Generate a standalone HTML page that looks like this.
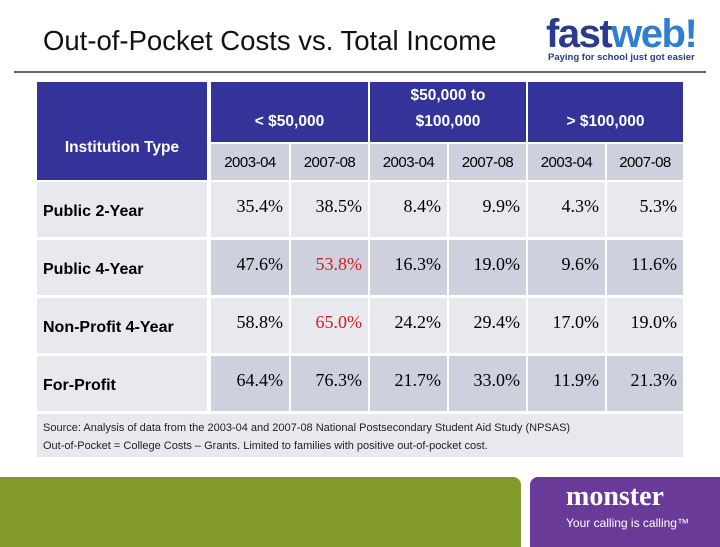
<!DOCTYPE html>
<html><head><meta charset="utf-8"><style>
body{margin:0;width:720px;height:540px;position:relative;background:#fff;font-family:"Liberation Sans",sans-serif;overflow:hidden}
.a{position:absolute;box-sizing:border-box}
.h{background:#333399;color:#fff;font-weight:bold;font-size:15.5px;display:flex;align-items:center;justify-content:center;text-align:center;line-height:26px}
.g{align-items:flex-end;padding-bottom:7px}
.s{background:#cfd0de;font-size:15px;display:flex;align-items:center;justify-content:center;letter-spacing:-0.5px}
.c{display:flex;align-items:center;padding-left:6px;font-weight:bold;font-size:16px}
.v{font-family:"Liberation Serif",serif;font-size:18px;text-align:right;padding-right:6px;padding-top:14px}
</style></head><body>
<div class="a" style="left:43px;top:25px;font-size:27.5px;color:#111">Out-of-Pocket Costs vs. Total Income</div>
<div class="a" style="left:546px;top:14px;font-size:40px;font-weight:bold;color:#2a3a8c;letter-spacing:-1.5px;line-height:40px">fast<span style="color:#2f7fd0">web</span><span style="color:#2f7fd0">!</span></div>
<div class="a" style="left:548px;top:52px;font-size:9.5px;font-weight:bold;color:#2a3a8c">Paying for school just got easier</div>
<div class="a" style="left:14px;top:71px;width:692px;height:2px;background:#666"></div>
<div id="t"></div>
<div class="a" style="left:37px;top:414px;width:646px;height:43px;background:#e8e9ef;font-size:11px;padding:5px 0 0 6px;line-height:18px;color:#222">Source: Analysis of data from the 2003-04 and 2007-08 National Postsecondary Student Aid Study (NPSAS)<br>Out-of-Pocket = College Costs – Grants. Limited to families with positive out-of-pocket cost.</div>
<div class="a" style="left:0;top:477px;width:521px;height:70px;background:#819a29;border-radius:0 8px 0 0"></div>
<div class="a" style="left:530px;top:477px;width:200px;height:70px;background:#6a3a99;border-radius:8px 0 0 0"></div>
<div class="a" style="left:566px;top:481px;font-size:28px;font-weight:bold;color:#fff;font-family:'Liberation Serif',serif">monster</div>
<div class="a" style="left:566px;top:516px;font-size:12px;color:#fff">Your calling is calling™</div>
<script>
const groups=["< $50,000","$50,000 to<br>$100,000","> $100,000"];
const years=["2003-04","2007-08"];
const types=["Public 2-Year","Public 4-Year","Non-Profit 4-Year","For-Profit"];
const values=[["35.4%","38.5%","8.4%","9.9%","4.3%","5.3%"],["47.6%","53.8%","16.3%","19.0%","9.6%","11.6%"],["58.8%","65.0%","24.2%","29.4%","17.0%","19.0%"],["64.4%","76.3%","21.7%","33.0%","11.9%","21.3%"]];
const red=[[1,1],[2,1]];
const t=document.getElementById('t');
const xs=[37,209,289,368,447,526,605,683];
function box(cls,x,y,w,h,html,bg){const d=document.createElement('div');d.className='a '+cls;d.style.cssText=`left:${x}px;top:${y}px;width:${w}px;height:${h}px;`+(bg?`background:${bg};`:'');d.innerHTML=html;t.appendChild(d);return d;}
let d=box('h',37,82,170,98,'<span style="position:relative;top:17px">Institution Type</span>');

groups.forEach((g,i)=>{const x=xs[1+2*i]+2,w=xs[3+2*i]-xs[1+2*i]-2;const e=box('h g',x,82,w,60,'<span>'+g+'</span>');

years.forEach((y,j)=>{const c=xs[1+2*i+j];const s=box('s',c+2,144,xs[2+2*i+j]-c-2,36,y);
});});
types.forEach((ty,r)=>{const y=182+58*r,bg=r%2?'#cfd0de':'#e8e9ef';
const c=box('c',37,y,170,55,ty,'#e8e9ef');c.style.paddingTop='4px';

values[r].forEach((v,k)=>{const x=xs[1+k]+2;const e=box('v',x,y,xs[2+k]-x,55,v,bg);
if(red.some(p=>p[0]===r&&p[1]===k))e.style.color='#d02020';
});});
</script>
</body></html>
